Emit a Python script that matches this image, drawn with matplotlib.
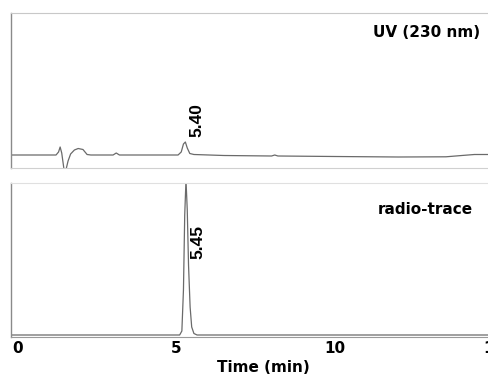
import numpy as np
import matplotlib

matplotlib.use("Agg")
import matplotlib.pyplot as plt

# UV (230 nm) trace (time in min, signal in a.u.)
uv_time = [-0.3, 1.20, 1.28, 1.33, 1.38, 1.45, 1.52, 1.58, 1.66, 1.78, 1.90, 2.05, 2.18, 2.30,
           3.00, 3.10, 3.20, 5.05, 5.15, 5.22, 5.28, 5.34, 5.42, 5.55, 6.5, 8.0, 8.1, 8.2,
           10.0, 12.0, 13.5, 14.0, 14.4, 15.3]
uv_signal = [0.0, 0.0, 3.0, 8.0, 2.0, -14.0, -14.0, -6.0, 1.0, 5.0, 6.5, 5.5, 0.5, 0.0,
             0.0, 2.0, 0.0, 0.0, 3.0, 11.0, 13.0, 7.0, 1.5, 0.5, -0.5, -1.0, 0.0, -1.0,
             -1.5, -2.0, -1.8, -0.5, 0.5, 0.5]

# radio-trace
rad_time = [-0.3, 5.10, 5.17, 5.22, 5.26, 5.30, 5.34, 5.38, 5.43, 5.48, 5.55, 5.65, 15.3]
rad_signal = [0.0, 0.0, 4.0, 45.0, 120.0, 155.0, 125.0, 70.0, 28.0, 8.0, 1.5, 0.0, 0.0]

x_ticks = [0, 5, 10, 15]
uv_peak_label = "5.40"
rad_peak_label = "5.45"

W, H = 489, 381
fig = plt.figure(figsize=(W / 100, H / 100), dpi=100, facecolor="white")

left = 11 / W
width = 492 / W
ax_uv = fig.add_axes([left, (H - 168) / H, width, 155 / H])
ax_rad = fig.add_axes([left, (H - 337) / H, width, 154 / H])

line_col = "#6a6a6a"
for ax in (ax_uv, ax_rad):
    ax.set_xlim(-0.22, 15.3)
    ax.set_yticks([])
    ax.spines["right"].set_visible(False)
    ax.spines["left"].set_color("#8a8a8a")
    ax.spines["left"].set_linewidth(1.0)

ax_uv.plot(uv_time, uv_signal, color=line_col, lw=0.9)
ax_uv.set_ylim(-13, 142)
ax_uv.spines["top"].set_color("#c8c8c8")
ax_uv.spines["bottom"].set_color("#d0d0d0")
ax_uv.set_xticks([])
ax_uv.text(469 / 492, 0.877, "UV (230 nm)", transform=ax_uv.transAxes, ha="right", va="center",
           fontsize=11, fontweight="bold", family="DejaVu Sans")
ax_uv.text(5.65, 18, uv_peak_label, rotation=90, ha="center", va="bottom",
           fontsize=12.5, fontweight="bold", family="Liberation Sans")

ax_rad.plot(rad_time, rad_signal, color=line_col, lw=0.9)
ax_rad.set_ylim(-2, 152)
ax_rad.spines["top"].set_color("#e0e0e0")
ax_rad.spines["bottom"].set_color("#9a9a9a")
ax_rad.set_xticks(x_ticks)
ax_rad.tick_params(axis="x", length=0, pad=3)
for lab in ax_rad.get_xticklabels():
    lab.set_fontweight("bold")
    lab.set_fontsize(11)
ax_rad.text(462 / 492, 0.825, "radio-trace", transform=ax_rad.transAxes, ha="right", va="center",
            fontsize=11, fontweight="bold", family="DejaVu Sans")
ax_rad.text(5.68, 93, rad_peak_label, rotation=90, ha="center", va="center",
            fontsize=12.5, fontweight="bold", family="Liberation Sans")

fig.text(263 / W, 1 - 368 / H, "Time (min)", ha="center", va="center",
         fontsize=11, fontweight="bold")

fig.savefig("out.png", dpi=100, facecolor="white")
